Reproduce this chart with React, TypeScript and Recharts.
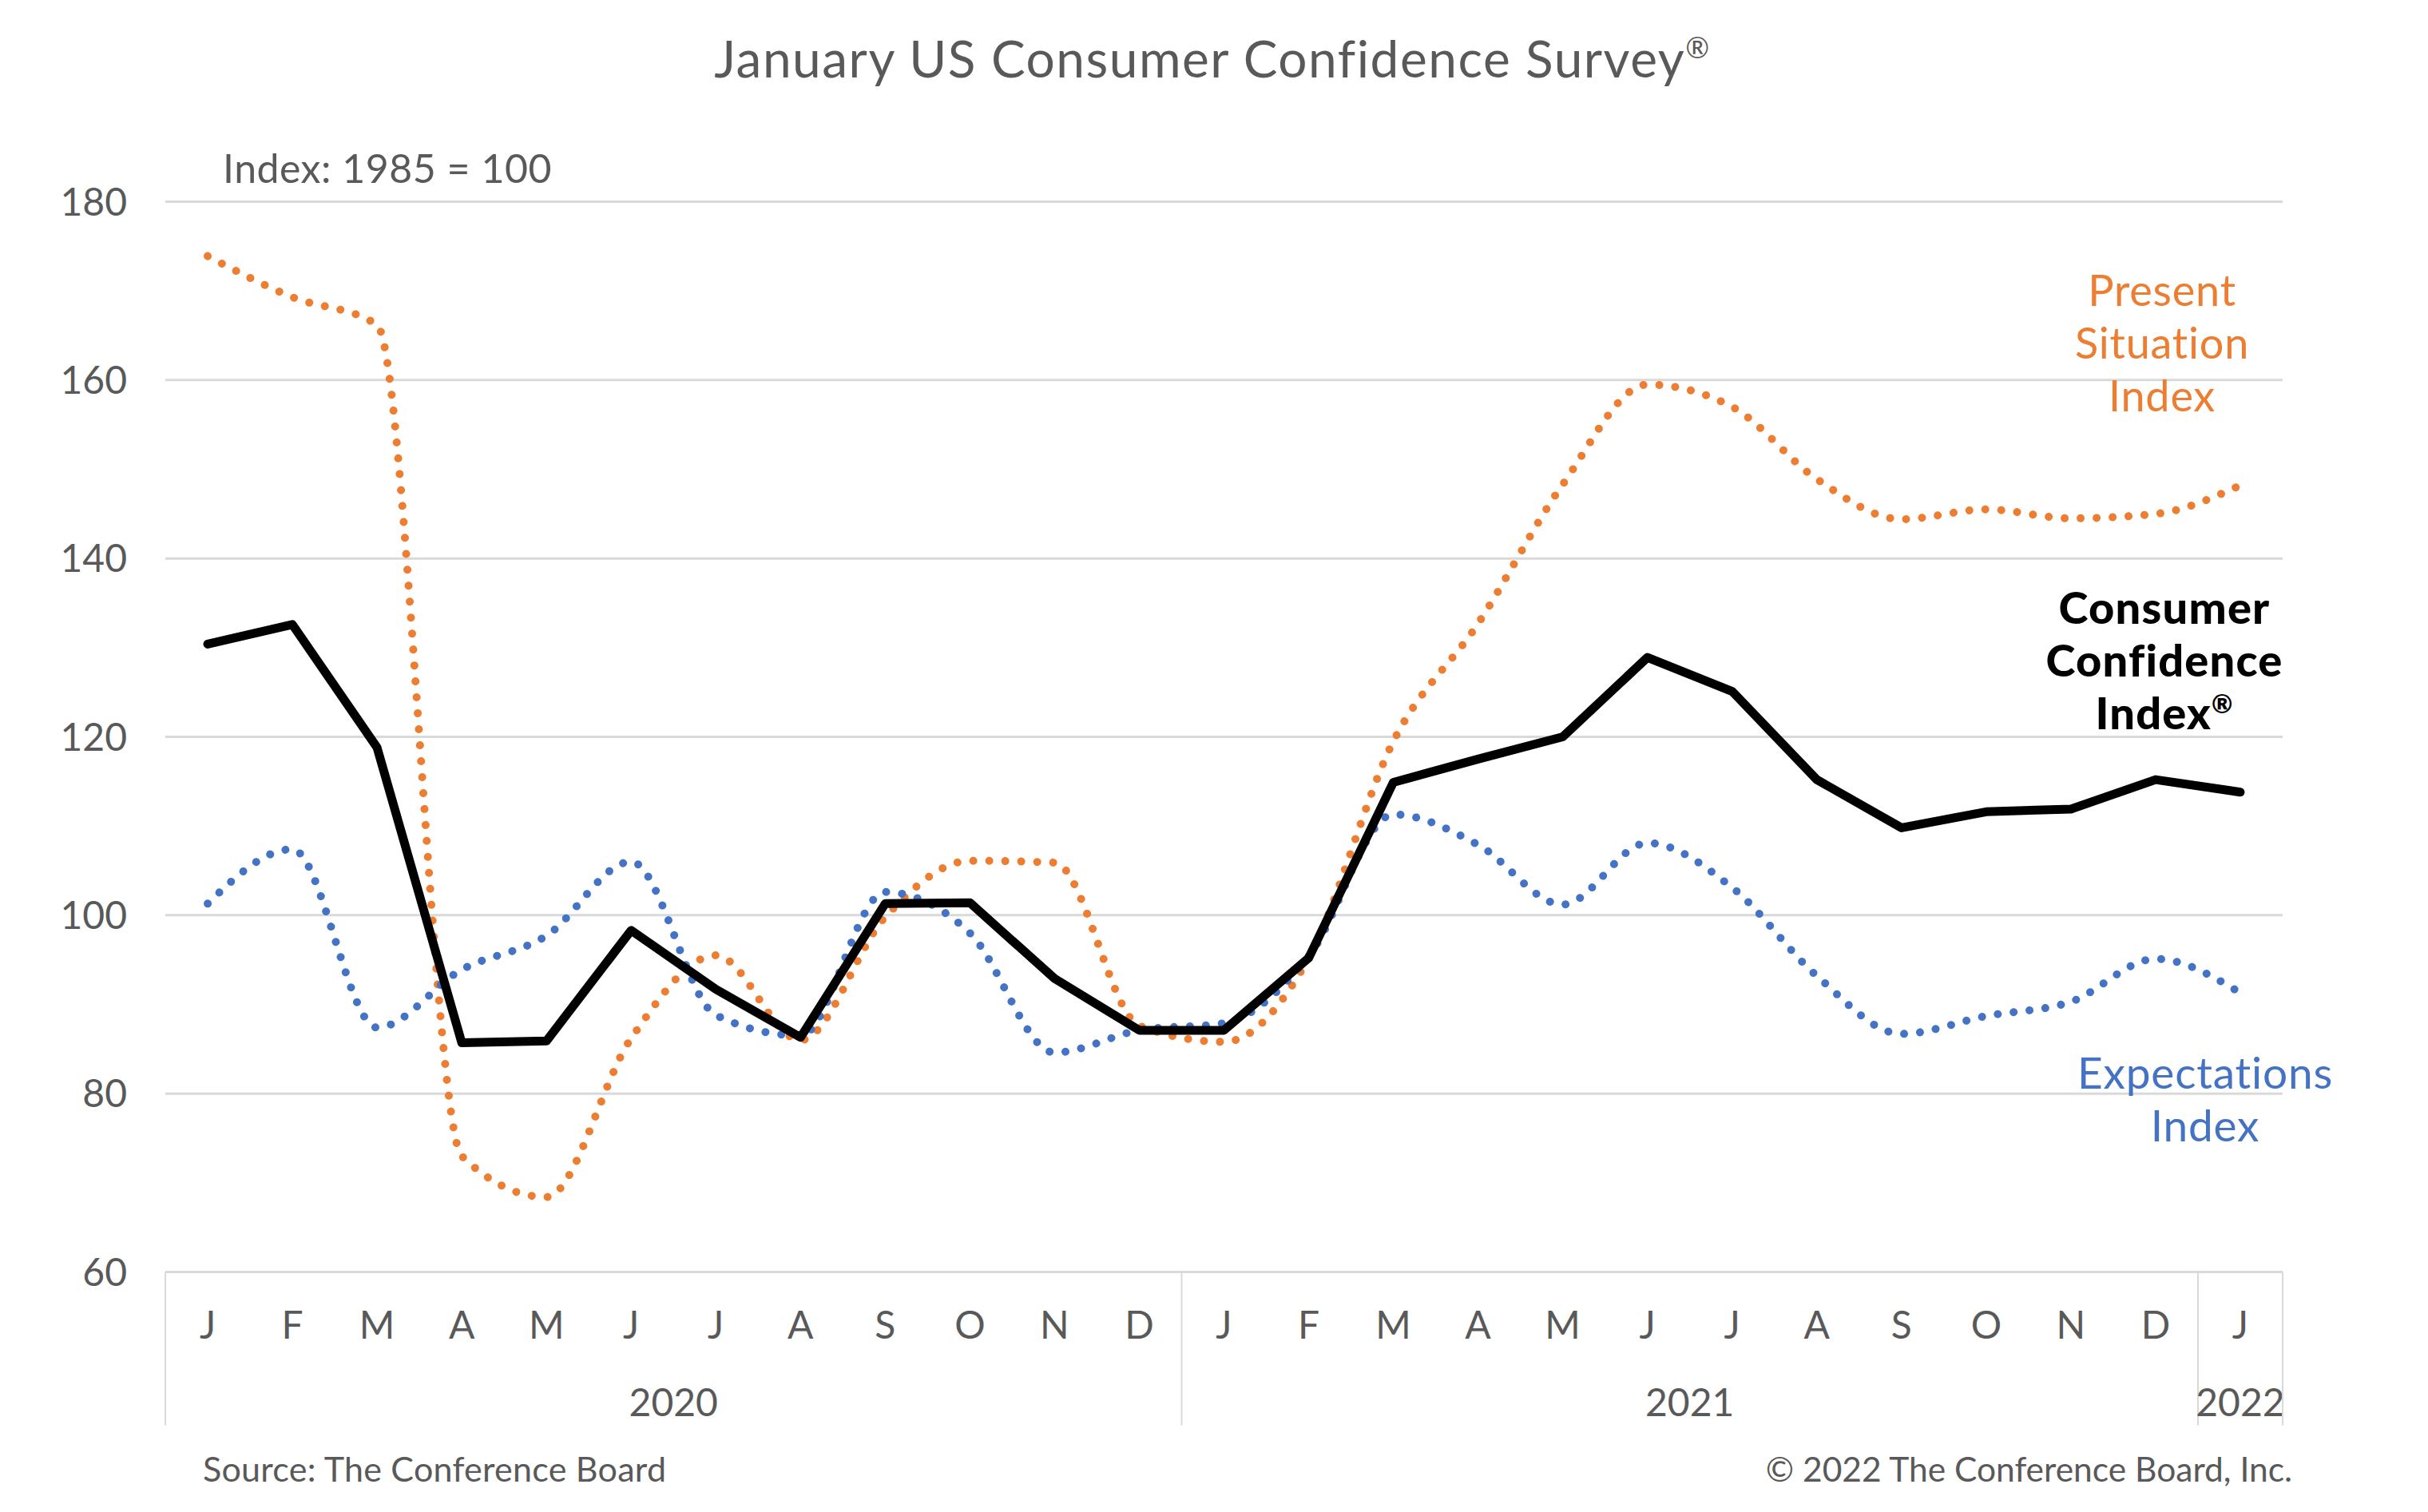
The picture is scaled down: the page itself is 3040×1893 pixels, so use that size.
import React from 'react';
import { LineChart, Line, XAxis, YAxis, CartesianGrid } from 'recharts';

const periodKeys = [
  '2020-01', '2020-02', '2020-03', '2020-04', '2020-05', '2020-06', '2020-07', '2020-08', '2020-09', '2020-10', '2020-11', '2020-12',
  '2021-01', '2021-02', '2021-03', '2021-04', '2021-05', '2021-06', '2021-07', '2021-08', '2021-09', '2021-10', '2021-11', '2021-12',
  '2022-01',
];
const monthLabels = ['J', 'F', 'M', 'A', 'M', 'J', 'J', 'A', 'S', 'O', 'N', 'D', 'J', 'F', 'M', 'A', 'M', 'J', 'J', 'A', 'S', 'O', 'N', 'D', 'J'];
const consumerConfidence = [130.4, 132.6, 118.8, 85.7, 85.9, 98.3, 91.7, 86.3, 101.3, 101.4, 92.9, 87.1, 87.1, 95.2, 114.9, 117.5, 120.0, 128.9, 125.1, 115.2, 109.8, 111.6, 111.9, 115.2, 113.8];
const presentSituation = [173.9, 169.3, 166.2, 73.0, 68.4, 86.2, 95.5, 86.0, 99.8, 106.1, 105.9, 87.6, 85.8, 95.2, 119.5, 132.7, 148.3, 159.5, 157.0, 148.9, 144.4, 145.5, 144.5, 145.0, 148.2];
const expectations = [101.3, 107.4, 87.4, 93.9, 97.7, 106.0, 88.8, 86.5, 102.6, 98.0, 84.6, 87.1, 87.9, 95.4, 111.3, 107.9, 101.2, 108.1, 103.1, 93.2, 86.7, 88.7, 90.3, 95.1, 91.3];
const yTicks = [60, 80, 100, 120, 140, 160, 180];
const yearLabels = ['2020', '2021', '2022'];
const yearStartIndex = [0, 12, 24];
const yearMonthCount = [12, 12, 1];

const data = periodKeys.map((k, i) => ({
  key: k,
  cci: consumerConfidence[i],
  psi: presentSituation[i],
  exp: expectations[i],
}));

const W = 3040;
const H = 1893;
const PLOT_L = 207;
const PLOT_R = 2858;
const PLOT_T = 252.5;
const PLOT_B = 1592.5;
const BAND = (PLOT_R - PLOT_L) / periodKeys.length;
const FONT = 'Lato, "Open Sans", sans-serif';
const GRAY = '#595959';
const GRID = '#D9D9D9';
const ORANGE = '#ED7D31';
const BLUE = '#4472C4';

const MonthTick = (props: any) => {
  const { x, y, index } = props;
  const i = index;
  const k = yearStartIndex.indexOf(i);
  return (
    <g>
      <text x={x} y={y + 83} textAnchor="middle" fontSize={48} fill={GRAY} fontFamily={FONT}>
        {monthLabels[i]}
      </text>
      {k >= 0 && (
        <g>
          <line x1={x - BAND / 2} x2={x - BAND / 2} y1={y} y2={y + 192} stroke={GRID} strokeWidth={2} />
          <text
            x={x - BAND / 2 + (yearMonthCount[k] * BAND) / 2}
            y={y + 180}
            textAnchor="middle"
            fontSize={48}
            fill={GRAY}
            fontFamily={FONT}
          >
            {yearLabels[k]}
          </text>
        </g>
      )}
      {i === periodKeys.length - 1 && (
        <line x1={x + BAND / 2} x2={x + BAND / 2} y1={y} y2={y + 192} stroke={GRID} strokeWidth={2} />
      )}
    </g>
  );
};

export default function App() {
  return (
    <div style={{ position: 'absolute', left: 0, top: 0, width: W, height: H, background: '#fff' }}>
      <LineChart
        width={W}
        height={H}
        data={data}
        margin={{ top: PLOT_T, right: W - PLOT_R, bottom: H - PLOT_B - 200, left: PLOT_L - 120 }}
      >
        <CartesianGrid vertical={false} stroke={GRID} strokeWidth={3} />
        <XAxis
          dataKey="key"
          interval={0}
          axisLine={false}
          tickLine={false}
          tickSize={0}
          tickMargin={0}
          height={200}
          padding={{ left: BAND / 2, right: BAND / 2 }}
          tick={<MonthTick />}
        />
        <YAxis
          domain={[60, 180]}
          ticks={yTicks}
          width={120}
          axisLine={false}
          tickLine={false}
          tickSize={0}
          tickMargin={48}
          tick={{ fontSize: 48, fill: GRAY, fontFamily: FONT }}
        />
        <Line
          dataKey="psi"
          type="monotone"
          stroke={ORANGE}
          strokeWidth={10}
          strokeDasharray="0.01 20"
          strokeLinecap="round"
          dot={false}
          activeDot={false}
          isAnimationActive={false}
        />
        <Line
          dataKey="exp"
          type="monotone"
          stroke={BLUE}
          strokeWidth={10}
          strokeDasharray="0.01 20"
          strokeLinecap="round"
          dot={false}
          activeDot={false}
          isAnimationActive={false}
        />
        <Line
          dataKey="cci"
          type="linear"
          stroke="#000"
          strokeWidth={11}
          strokeLinecap="round"
          strokeLinejoin="round"
          dot={false}
          activeDot={false}
          isAnimationActive={false}
        />
      </LineChart>
      <svg
        width={W}
        height={H}
        style={{ position: 'absolute', left: 0, top: 0, pointerEvents: 'none' }}
        fontFamily={FONT}
      >
        <text x={1518} y={97} textAnchor="middle" fontSize={64} letterSpacing={1.5} fill={GRAY}>
          January US Consumer Confidence Survey
          <tspan fontSize={36} dy={-24}>®</tspan>
        </text>
        <text x={279} y={229} fontSize={50} letterSpacing={0.5} fill={GRAY}>
          Index: 1985 = 100
        </text>
        <g fill={ORANGE} fontSize={54} letterSpacing={0.8} textAnchor="middle">
          <text x={2707} y={383}>Present</text>
          <text x={2707} y={449}>Situation</text>
          <text x={2707} y={515}>Index</text>
        </g>
        <g fill="#000" fontSize={56} fontWeight={900} letterSpacing={1.2} textAnchor="middle">
          <text x={2710} y={781}>Consumer</text>
          <text x={2710} y={847}>Confidence</text>
          <text x={2710} y={913}>
            Index<tspan fontSize={32} dy={-20}>®</tspan>
          </text>
        </g>
        <g fill={BLUE} fontSize={55} letterSpacing={0.8} textAnchor="middle">
          <text x={2761} y={1363}>Expectations</text>
          <text x={2761} y={1429}>Index</text>
        </g>
        <text x={254} y={1855} fontSize={43} letterSpacing={0.25} fill={GRAY}>
          Source: The Conference Board
        </text>
        <text x={2870} y={1855} fontSize={42.5} fill={GRAY} textAnchor="end">
          © 2022 The Conference Board, Inc.
        </text>
      </svg>
    </div>
  );
}
